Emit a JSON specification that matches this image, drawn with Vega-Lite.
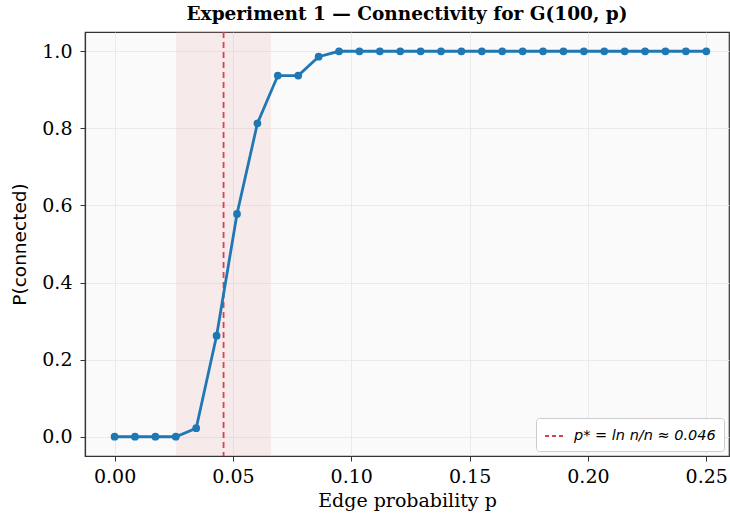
{
  "$schema": "https://vega.github.io/schema/vega-lite/v6.json",
  "autosize": {"type": "none"},
  "padding": {"left": 85, "top": 32, "right": 1, "bottom": 60},
  "width": 644,
  "height": 424,
  "background": "white",
  "title": {
    "text": "Experiment 1 — Connectivity for G(100, p)",
    "font": "DejaVu Serif",
    "fontSize": 18.5,
    "fontWeight": "bold",
    "color": "#000",
    "offset": 8,
    "anchor": "middle"
  },
  "config": {
    "view": {"fill": "#fafafa", "stroke": "#333", "strokeWidth": 1.2},
    "axis": {
      "labelFont": "DejaVu Serif",
      "labelFontSize": 19,
      "labelColor": "#000",
      "titleFont": "DejaVu Serif",
      "titleFontSize": 19,
      "titleFontWeight": "normal",
      "titleColor": "#000",
      "gridColor": "#e6e6e6",
      "gridWidth": 0.8,
      "domainColor": "#333",
      "domainWidth": 1.2,
      "tickColor": "#333",
      "tickSize": 5,
      "tickWidth": 1
    }
  },
  "datasets": {
    "sim": [
      {"p": 0.0, "pc": 0.0},
      {"p": 0.00862, "pc": 0.0},
      {"p": 0.01724, "pc": 0.0},
      {"p": 0.02586, "pc": 0.0},
      {"p": 0.03448, "pc": 0.022},
      {"p": 0.0431, "pc": 0.262},
      {"p": 0.05172, "pc": 0.578},
      {"p": 0.06034, "pc": 0.813},
      {"p": 0.06897, "pc": 0.937},
      {"p": 0.07759, "pc": 0.937},
      {"p": 0.08621, "pc": 0.986},
      {"p": 0.09483, "pc": 1.0},
      {"p": 0.10345, "pc": 1.0},
      {"p": 0.11207, "pc": 1.0},
      {"p": 0.12069, "pc": 1.0},
      {"p": 0.12931, "pc": 1.0},
      {"p": 0.13793, "pc": 1.0},
      {"p": 0.14655, "pc": 1.0},
      {"p": 0.15517, "pc": 1.0},
      {"p": 0.16379, "pc": 1.0},
      {"p": 0.17241, "pc": 1.0},
      {"p": 0.18103, "pc": 1.0},
      {"p": 0.18966, "pc": 1.0},
      {"p": 0.19828, "pc": 1.0},
      {"p": 0.2069, "pc": 1.0},
      {"p": 0.21552, "pc": 1.0},
      {"p": 0.22414, "pc": 1.0},
      {"p": 0.23276, "pc": 1.0},
      {"p": 0.24138, "pc": 1.0},
      {"p": 0.25, "pc": 1.0}
    ],
    "band": [{"lo": 0.026, "hi": 0.066}],
    "thr": [{"p": 0.04605, "label": "p* = ln n/n ≈ 0.046"}]
  },
  "layer": [
    {
      "data": {"name": "band"},
      "mark": {"type": "rect", "color": "#e8a0a0", "opacity": 0.18},
      "encoding": {
        "x": {"field": "lo", "type": "quantitative", "scale": {"domain": [-0.0125, 0.2596], "nice": false, "zero": false},
          "axis": {"values": [0, 0.05, 0.1, 0.15, 0.2, 0.25], "format": ".2f", "title": "Edge probability p", "titlePadding": 5, "labelPadding": 6}},
        "x2": {"field": "hi"}
      }
    },
    {
      "data": {"name": "thr"},
      "mark": {"type": "rule", "strokeDash": [6, 4], "strokeWidth": 1.8},
      "encoding": {
        "x": {"field": "p", "type": "quantitative"},
        "color": {"field": "label", "type": "nominal",
          "scale": {"range": ["#d9404d"]},
          "legend": {
            "title": null,
            "orient": "bottom-right",
            "offset": 5,
            "symbolType": "stroke",
            "symbolStrokeWidth": 1.8,
            "symbolDash": [4, 3],
            "symbolSize": 320,
            "labelFont": "DejaVu Sans",
            "labelFontSize": 14.5,
            "labelFontStyle": "italic",
            "labelColor": "#000",
            "labelOffset": 10,
            "fillColor": "white",
            "strokeColor": "#cccccc",
            "padding": 8,
            "cornerRadius": 3
          }}
      }
    },
    {
      "data": {"name": "sim"},
      "mark": {"type": "line", "color": "#1f77b4", "strokeWidth": 2.8, "point": {"filled": true, "size": 60, "color": "#1f77b4", "opacity": 1}},
      "encoding": {
        "x": {"field": "p", "type": "quantitative"},
        "y": {"field": "pc", "type": "quantitative", "scale": {"domain": [-0.05, 1.05], "nice": false, "zero": false},
          "axis": {"values": [0, 0.2, 0.4, 0.6, 0.8, 1.0], "format": ".1f", "title": "P(connected)", "titleFont": "DejaVu Sans", "titleFontSize": 18.5, "titlePadding": 12, "labelPadding": 8}}
      }
    }
  ]
}
